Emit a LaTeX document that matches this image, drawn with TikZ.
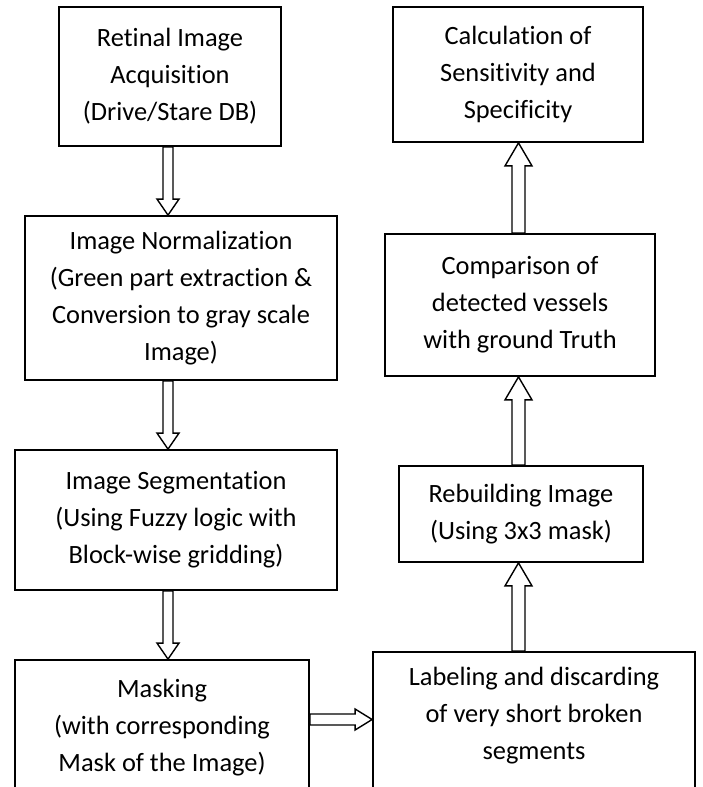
\documentclass[tikz,border=0pt]{standalone}
\usepackage{fontspec}
\setmainfont{Carlito}[Ligatures=NoCommon]
\usetikzlibrary{calc}
\tikzset{
  lbl/.style={font=\fontsize{26.4}{37}\selectfont, align=center},
  box/.style={lbl, draw, line width=1.8pt, inner sep=0pt},
  txt/.style={lbl, inner sep=0pt},
  blk/.style={draw, line width=1.4pt, fill=white, line join=miter},
}
% down block arrow: x, from node, to node
\newcommand{\vdn}[3]{\draw[blk] let \p1=(#2), \p2=(#3) in
  (#1pt-5pt,\y1) -- (#1pt-5pt,\y2+16pt) -- (#1pt-11pt,\y2+16pt) -- (#1pt,\y2)
  -- (#1pt+11pt,\y2+16pt) -- (#1pt+5pt,\y2+16pt) -- (#1pt+5pt,\y1) -- cycle;}
% up block arrow
\newcommand{\vup}[3]{\draw[blk] let \p1=(#2), \p2=(#3) in
  (#1pt-6.5pt,\y1) -- (#1pt-6.5pt,\y2-23pt) -- (#1pt-13.5pt,\y2-23pt) -- (#1pt,\y2)
  -- (#1pt+13.5pt,\y2-23pt) -- (#1pt+6.5pt,\y2-23pt) -- (#1pt+6.5pt,\y1) -- cycle;}
% right block arrow: y (pixels), from node, to node
\newcommand{\hrt}[3]{\draw[blk] let \p1=(#2), \p2=(#3) in
  (\x1,-#1pt+5.5pt) -- (\x2-17pt,-#1pt+5.5pt) -- (\x2-17pt,-#1pt+10.5pt) -- (\x2,-#1pt)
  -- (\x2-17pt,-#1pt-10.5pt) -- (\x2-17pt,-#1pt-5.5pt) -- (\x1,-#1pt-5.5pt) -- cycle;}
\begin{document}
\begin{tikzpicture}[x=1pt, y=-1pt]
\fill[white] (0,0) rectangle (702,787);
\useasboundingbox (0,0) rectangle (702,787);

% left column
\node[box, minimum width=222pt, minimum height=139pt] (b1) at (170,76.5)
  {Retinal Image\\Acquisition\\(Drive/Stare DB)};
\node[box, minimum width=312pt, minimum height=164pt] (b2) at (181,298)
  {Image Normalization\\(Green part extraction \&\\Conversion to gray scale\\Image)};
\node[box, minimum width=322pt, minimum height=140pt] (b3) at (176,520)
  {Image Segmentation\\(Using Fuzzy logic with\\Block-wise gridding)};
\node[box, minimum width=294pt, minimum height=150pt] (b4) at (162,735) {};
\node[txt] (b4t) at (162,728)
  {Masking\\(with corresponding\\Mask of the Image)};

% right column
\node[box, minimum width=250pt, minimum height=135pt] (c1) at (518,74.5)
  {Calculation of\\Sensitivity and\\Specificity};
\node[box, minimum width=270pt, minimum height=142pt] (c2) at (520,305)
  {Comparison of\\detected vessels\\with ground Truth};
\node[box, minimum width=244pt, minimum height=96pt] (c3) at (521,514)
  {Rebuilding Image\\(Using 3x3 mask)};
\node[box, minimum width=322pt, minimum height=158pt] (c4) at (534,731) {};
\node[txt] (c4t) at (534,716)
  {Labeling and discarding\\of very short broken\\segments};

% block arrows
\vdn{168}{b1.south}{b2.north}
\vdn{168}{b2.south}{b3.north}
\vdn{168}{b3.south}{b4.north}
\hrt{719.5}{b4.east}{c4.west}
\vup{518.5}{c4.north}{c3.south}
\vup{518.5}{c3.north}{c2.south}
\vup{518.5}{c2.north}{c1.south}
\end{tikzpicture}
\end{document}
